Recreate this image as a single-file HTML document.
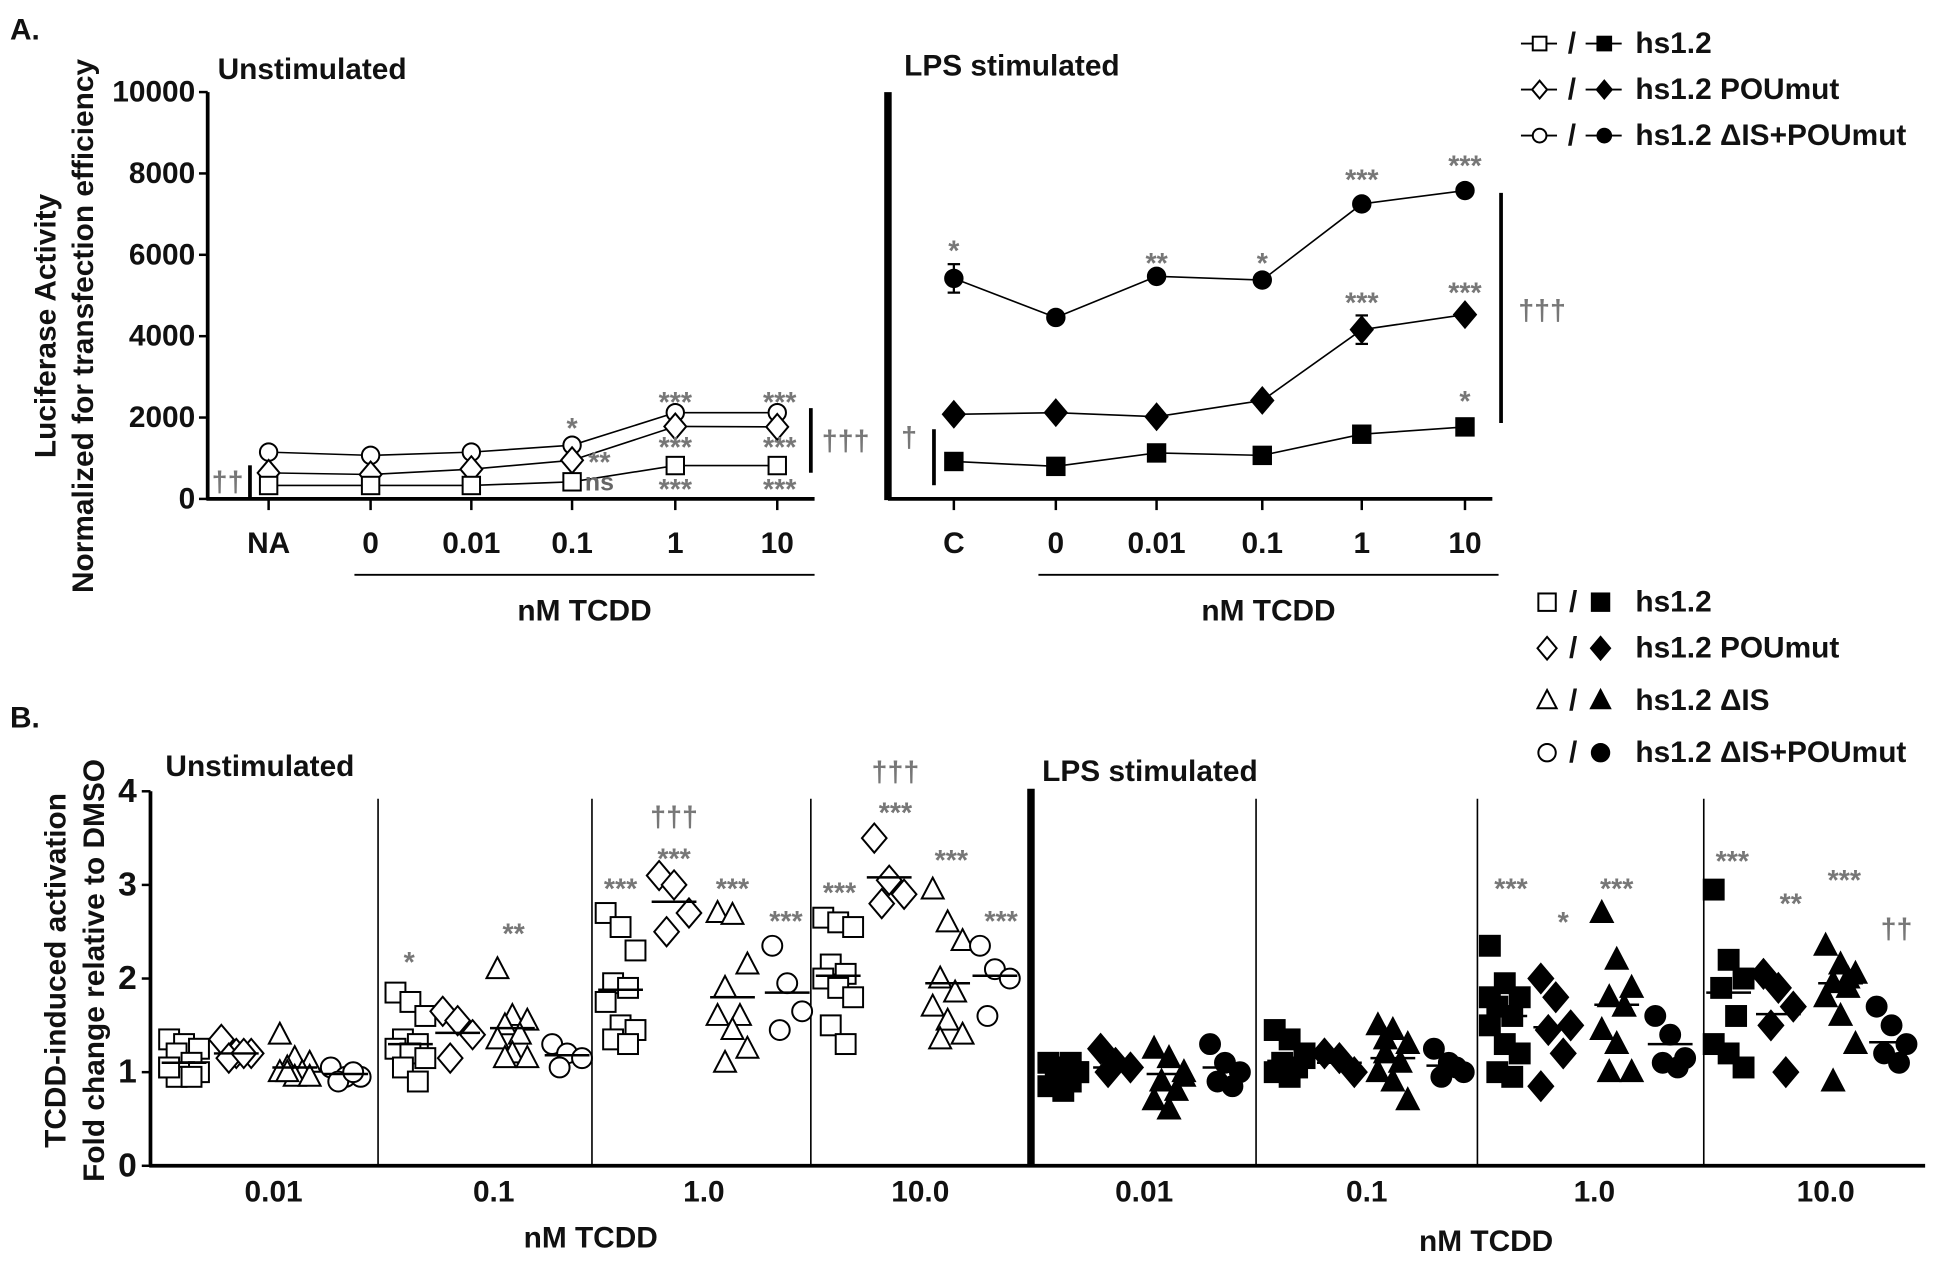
<!DOCTYPE html>
<html><head><meta charset="utf-8"><style>
html,body{margin:0;padding:0;background:#fff;}
svg{display:block;}
text{font-family:"Liberation Sans",sans-serif;fill:#111;}
.t{font-size:24px;font-weight:bold;}
.st{font-size:23px;fill:#777;font-weight:bold;}
</style></head><body>
<svg id="fig" width="1950" height="1279" viewBox="0 0 1568 1028" preserveAspectRatio="none" xmlns="http://www.w3.org/2000/svg">
<g id="root"></g>
</svg>
<script>
// ---------- Panel A data ----------
const aCatsUnstim = ["NA","0","0.01","0.1","1","10"];
const aCatsLPS = ["C","0","0.01","0.1","1","10"];
const aYTicks = [0,2000,4000,6000,8000,10000];
const aUnstimSquare = [330,330,330,420,820,820];
const aUnstimDiamond = [640,600,730,950,1780,1770];
const aUnstimCircle = [1150,1070,1150,1320,2120,2120];
const aLPSSquare = [920,800,1130,1070,1590,1770];
const aLPSSquareErr = [0,60,80,60,80,80];
const aLPSDiamond = [2080,2120,2020,2420,4160,4530];
const aLPSDiamondErr = [0,150,150,150,350,0];
const aLPSCircle = [5420,4460,5470,5380,7250,7580];
const aLPSCircleErr = [350,150,0,120,120,150];
// ---------- Panel B data ----------
const bCats = ["0.01","0.1","1.0","10.0"];
const bYTicks = [0,1,2,3,4];
const bUnSq = [[1.35,1.3,1.25,1.2,1.1,1.05,1.0,1.0,0.95,0.95,1.05],[1.85,1.75,1.6,1.35,1.3,1.25,1.2,1.15,1.05,0.9],[2.7,2.55,2.3,1.95,1.9,1.75,1.5,1.45,1.35,1.3],[2.65,2.6,2.55,2.15,2.05,2.0,1.9,1.8,1.5,1.3]];
const bUnDi = [[1.35,1.2,1.2,1.15,1.2],[1.65,1.55,1.4,1.15],[3.1,3.0,2.7,2.5],[3.5,3.05,2.9,2.8]];
const bUnTr = [[1.4,1.15,1.1,1.05,1.0,1.0,0.95,0.95,1.0],[2.1,1.6,1.55,1.5,1.4,1.35,1.2,1.15,1.15],[2.7,2.68,2.15,1.9,1.6,1.6,1.45,1.25,1.1],[2.95,2.6,2.4,2.0,1.85,1.7,1.55,1.4,1.35]];
const bUnCi = [[1.05,0.95,0.95,0.9,1.0],[1.3,1.2,1.15,1.05],[2.35,1.95,1.65,1.45],[2.35,2.1,2.0,1.6]];
const bLpSq = [[1.1,1.05,1.0,0.95,0.9,0.85,0.8,1.0,1.05,1.1],[1.45,1.35,1.2,1.1,1.05,1.0,0.95,1.15],[2.35,1.95,1.8,1.7,1.6,1.5,1.3,1.2,1.0,0.95,1.8],[2.95,2.2,2.0,1.9,1.6,1.3,1.2,1.05]];
const bLpDi = [[1.25,1.1,1.05,1.0],[1.2,1.15,1.0],[2.0,1.8,1.5,1.45,1.2,0.85],[2.05,1.9,1.7,1.5,1.0]];
const bLpTr = [[1.25,1.15,1.0,0.9,0.8,0.7,0.6,0.95],[1.5,1.45,1.3,1.2,1.1,1.0,0.9,0.7,1.35],[2.7,2.2,1.9,1.8,1.7,1.45,1.3,1.0,1.0,1.7],[2.35,2.15,2.05,1.95,1.9,1.8,1.6,1.3,0.9,2.0]];
const bLpCi = [[1.3,1.1,1.0,0.9,0.85],[1.25,1.1,1.0,0.95,1.05],[1.6,1.4,1.15,1.1,1.05],[1.7,1.5,1.3,1.2,1.1]];
const bUnMeans = [[1.1,1.2,1.05,0.98],[1.3,1.42,1.47,1.18],[1.88,2.82,1.8,1.85],[2.03,3.08,1.95,2.03]];
const bLpMeans = [[1.05,1.05,0.98,1.05],[1.12,1.1,1.15,1.07],[1.6,1.48,1.72,1.3],[1.85,1.62,1.95,1.32]];

const NS="http://www.w3.org/2000/svg";
const root=document.getElementById('root');
function el(tag,attrs,parent){const e=document.createElementNS(NS,tag);for(const k in attrs)e.setAttribute(k,attrs[k]);(parent||root).appendChild(e);return e;}
function txt(x,y,s,cls,anchor,name,extra){const e=el('text',Object.assign({x:x,y:y,class:cls||'t','text-anchor':anchor||'middle','dominant-baseline':'central'},extra||{}));e.textContent=s;

return e;}
function line(x1,y1,x2,y2,w,name){const e=el('line',{x1:x1,y1:y1,x2:x2,y2:y2,stroke:'#000','stroke-width':w||1.5});

return e;}
function marker(shape,x,y,s,filled,name){let e;const f=filled?'#000':'#fff';const a={fill:f,stroke:'#000','stroke-width':1.6};
 if(shape==='sq')e=el('rect',Object.assign({x:x-s/2,y:y-s/2,width:s,height:s},a));
 else if(shape==='ci')e=el('circle',Object.assign({cx:x,cy:y,r:s/2},a));
 else if(shape==='di')e=el('polygon',Object.assign({points:`${x},${y-s*0.65} ${x+s*0.55},${y} ${x},${y+s*0.65} ${x-s*0.55},${y}`},a));
 else e=el('polygon',Object.assign({points:`${x},${y-s*0.6} ${x+s*0.55},${y+s*0.45} ${x-s*0.55},${y+s*0.45}`},a));
 
 return e;}

// ================= Panel A =================
txt(20,24,'A.','t','middle','panel-a-label');
const aY0=401,aY1=74;
const ay=v=>aY0-(v/10000)*(aY0-aY1);
const axL=[216,298,379,460,543,625], axR=[767,849,930,1015,1095,1178];
line(167,aY1,167,aY0+1,3,'panel-a-y-axis');
line(166,aY0,655,aY0,3,'panel-a-x-axis-unstim');
line(714,aY0,1200,aY0,3,'panel-a-x-axis-lps');
line(714,aY1,714,aY0+1,6,'panel-a-divider');
aYTicks.forEach(v=>{line(160,ay(v),167,ay(v),2,'y-tick');txt(157,ay(v),String(v),'t','end','y-tick-label');});
aCatsUnstim.forEach((c,i)=>{line(axL[i],aY0,axL[i],410,2,'x-tick');txt(axL[i],437,c,'t','middle','x-tick-label');});
aCatsLPS.forEach((c,i)=>{line(axR[i],aY0,axR[i],410,2,'x-tick');txt(axR[i],437,c,'t','middle','x-tick-label');});
line(285,462,655,462,1.5,'tcdd-underline');line(835,462,1205,462,1.5,'tcdd-underline');
txt(470,491,'nM TCDD','t','middle','x-axis-title');txt(1020,491,'nM TCDD','t','middle','x-axis-title');
txt(175,56,'Unstimulated','t','start','unstimulated-title');
txt(727,53,'LPS stimulated','t','start','lps-title');
txt(37,262,'Luciferase Activity','t','middle','y-axis-title',{transform:'rotate(-90 37 262)'});
txt(67,262,'Normalized for transfection efficiency','t','middle','y-axis-title',{transform:'rotate(-90 67 262)'});
function series(xs,vals,errs,shape,filled,name){
 for(let i=0;i<vals.length-1;i++)line(xs[i],ay(vals[i]),xs[i+1],ay(vals[i+1]),1.3,name+'-line');
 vals.forEach((v,i)=>{if(errs&&errs[i]){line(xs[i],ay(v-errs[i]),xs[i],ay(v+errs[i]),1.8,'error-bar');line(xs[i]-5,ay(v+errs[i]),xs[i]+5,ay(v+errs[i]),1.8,'error-cap');line(xs[i]-5,ay(v-errs[i]),xs[i]+5,ay(v-errs[i]),1.8,'error-cap');}
  marker(shape,xs[i],ay(v),shape==='di'?16:14,filled,name+'-point');});
}
series(axL,aUnstimCircle,null,'ci',false,'unstim-dis-poumut');
series(axL,aUnstimDiamond,null,'di',false,'unstim-poumut');
series(axL,aUnstimSquare,null,'sq',false,'unstim-hs12');
series(axR,aLPSCircle,aLPSCircleErr,'ci',true,'lps-dis-poumut');
series(axR,aLPSDiamond,aLPSDiamondErr,'di',true,'lps-poumut');
series(axR,aLPSSquare,aLPSSquareErr,'sq',true,'lps-hs12');
[[460,341,'*'],[482,368,'**'],[543,320,'***'],[543,356,'***'],[543,390,'***'],[627,320,'***'],[627,356,'***'],[627,390,'***'],
 [767,198,'*'],[930,208,'**'],[1015,208,'*'],[1095,141,'***'],[1178,130,'***'],[1095,240,'***'],[1178,232,'***'],[1178,319,'*']
].forEach(a=>txt(a[0],a[1]+4,a[2],'st','middle','significance-stars'));
txt(482,388,'ns','t','middle','ns-label',{style:'fill:#666;font-size:20px'});
txt(183,388,'††','st','middle','dagger-label');line(201,374,201,400,3,'bracket');
line(652,328,652,380,3,'bracket');txt(680,355,'†††','st','middle','dagger-label');
txt(731,352,'†','st','middle','dagger-label');line(751,345,751,390,3,'bracket');
line(1207,155,1207,340,3,'bracket');txt(1240,250,'†††','st','middle','dagger-label');
// legend A
[['sq','hs1.2',35],['di','hs1.2 POUmut',72],['ci','hs1.2 ΔIS+POUmut',109]].forEach(l=>{
 line(1223,l[2],1252,l[2],1.5,'legend-line');marker(l[0],1238,l[2],11,false,'legend-open-marker');
 txt(1264,l[2],'/','t','middle','legend-slash');
 line(1275,l[2],1304,l[2],1.5,'legend-line');marker(l[0],1290,l[2],11,true,'legend-filled-marker');
 txt(1315,l[2],l[1],'t','start','legend-a-label');});

// ================= Panel B =================
txt(20,577,'B.','t','middle','panel-b-label');
const bY0=937,bY1=636;
const by=v=>bY0-(v/4)*(bY0-bY1);
line(121,bY1,121,bY0+1,3,'panel-b-y-axis');
line(120,bY0,1548,bY0,3,'panel-b-x-axis');
bYTicks.forEach(v=>{line(114,by(v),121,by(v),2,'y-tick');txt(110,by(v),String(v),'t','end','y-tick-label',{style:'font-size:27px'});});
[304,476,652,1010,1188,1370].forEach(x=>line(x,642,x,bY0,1.3,'section-divider'));
line(829,634,829,bY0,6,'panel-b-divider');
const secL=[[148,190,237,278],[330,368,412,456],[499,542,589,633],[674,715,762,800]];
const secR=[[855,897,940,985],[1037,1077,1120,1165],[1210,1251,1300,1343],[1390,1430,1480,1521]];
const catXL=[220,397,566,740],catXR=[920,1099,1282,1468];
bCats.forEach((c,i)=>{txt(catXL[i],958,c,'t','middle','x-tick-label');txt(catXR[i],958,c,'t','middle','x-tick-label');});
txt(475,995,'nM TCDD','t','middle','x-axis-title');txt(1195,998,'nM TCDD','t','middle','x-axis-title');
txt(133,616,'Unstimulated','t','start','unstimulated-title');
txt(838,620,'LPS stimulated','t','start','lps-title');
txt(45,780,'TCDD-induced activation','t','middle','y-axis-title',{transform:'rotate(-90 45 780)'});
txt(76,780,'Fold change relative to DMSO','t','middle','y-axis-title',{transform:'rotate(-90 76 780)'});
const shapes=['sq','di','tr','ci'];
function block(sets,means,secs,filled,prefix){
 for(let s=0;s<4;s++){for(let k=0;k<4;k++){const vals=sets[k][s];const cx=secs[s][k];
   vals.forEach((v,i)=>{const off=((i*7)%5-2)*6;marker(shapes[k],cx+off,by(v),shapes[k]==='di'?18:16,filled,prefix+'-'+shapes[k]+'-point');});
   line(cx-18,by(means[s][k]),cx+18,by(means[s][k]),2,'mean-line');}}
}
block([bUnSq,bUnDi,bUnTr,bUnCi],bUnMeans,secL,false,'unstim');
block([bLpSq,bLpDi,bLpTr,bLpCi],bLpMeans,secR,true,'lps');
[[329,770,'*'],[413,747,'**'],[499,711,'***'],[542,687,'***'],[542,657,'†††'],[589,711,'***'],[632,737,'***'],
 [675,714,'***'],[720,650,'***'],[720,621,'†††'],[765,688,'***'],[805,737,'***'],
 [1215,711,'***'],[1257,738,'*'],[1300,711,'***'],[1393,689,'***'],[1440,723,'**'],[1483,704,'***'],[1525,747,'††']
].forEach(a=>txt(a[0],a[1]+(a[2].indexOf('†')>=0?0:4),a[2],'st','middle','significance-stars'));
// legend B
[['sq','hs1.2',484],['di','hs1.2 POUmut',521],['tr','hs1.2 ΔIS',563],['ci','hs1.2 ΔIS+POUmut',605]].forEach(l=>{
 marker(l[0],1244,l[2],14,false,'legend-open-marker');txt(1265,l[2],'/','t','middle','legend-slash');
 marker(l[0],1287,l[2],14,true,'legend-filled-marker');txt(1315,l[2],l[1],'t','start','legend-b-label');});
</script>
</body></html>
